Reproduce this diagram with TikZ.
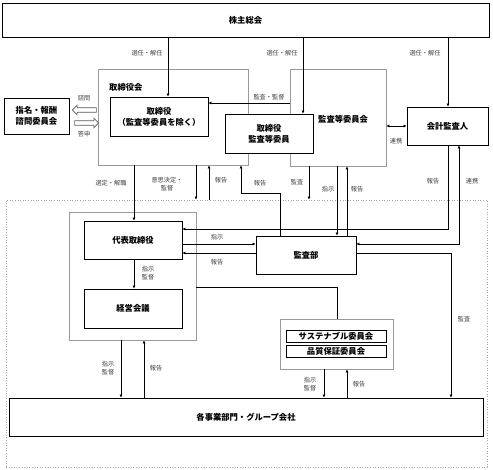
\documentclass[tikz,border=0pt]{standalone}
\usepackage{fontspec}
\setmainfont{Noto Sans CJK JP}
\usetikzlibrary{shapes.arrows,arrows.meta}
\begin{document}
\begin{tikzpicture}[x=1pt,y=-1pt,
 box/.style={draw=black,line width=0.9pt,fill=white,inner sep=0pt,align=center,font=\fontsize{8.3}{11}\selectfont\bfseries},
 gbox/.style={draw=black!40,line width=0.9pt,inner sep=0pt},
 arr/.style={line width=0.8pt,-{Latex[length=3pt,width=3pt]}},
 dbl/.style={line width=0.8pt,{Latex[length=3pt,width=3pt]}-{Latex[length=3pt,width=3pt]}},
 ln/.style={line width=0.8pt},
 harrow/.style={single arrow,draw=black!65,fill=white,line width=0.7pt,minimum height=24pt,minimum width=9.5pt,single arrow head extend=2pt,inner sep=1.4pt},
 lbl/.style={font=\fontsize{6.2}{8}\selectfont,text=black!75,inner sep=0pt,align=center}]
\useasboundingbox (0,0) rectangle (493,470);
% group frames
\node[draw=black!35,dotted,line width=0.6pt,minimum width=481pt,minimum height=267pt,inner sep=0pt] (grp) at (246.5,333.5) {};
\node[gbox,minimum width=150pt,minimum height=96pt] (bod) at (173,117) {};
\node[gbox,minimum width=96pt,minimum height=97pt] (ace) at (338,117.5) {};
\node[gbox,minimum width=127pt,minimum height=128pt] (exec) at (132.5,276) {};
\node[gbox,minimum width=113pt,minimum height=50pt] (susg) at (336.5,344) {};
\node[font=\fontsize{8.3}{10}\selectfont\bfseries,anchor=west,inner sep=0pt] (bodl) at (109,87) {取締役会};
\node[font=\fontsize{8.3}{10}\selectfont\bfseries,anchor=west,inner sep=0pt] (acel) at (318,119) {監査等委員会};
% boxes
\node[box,minimum width=487pt,minimum height=34pt] (sh) at (245.5,20) {株主総会};
\node[box,minimum width=98pt,minimum height=39pt] (dir) at (159,116.5) {取締役\\（監査等委員を除く）};
\node[box,minimum width=88pt,minimum height=39pt] (dirace) at (269,133.5) {取締役\\監査等委員};
\node[box,minimum width=81pt,minimum height=38pt] (aud) at (447.5,126) {会計監査人};
\node[box,minimum width=65pt,minimum height=36pt] (nom) at (36.5,116) {指名・報酬\\諮問委員会};
\node[box,minimum width=98pt,minimum height=38pt] (ceo) at (133,240) {代表取締役};
\node[box,minimum width=98pt,minimum height=39pt] (mgmt) at (133,308.5) {経営会議};
\node[box,minimum width=100pt,minimum height=38pt] (iad) at (306,255) {監査部};
\node[box,minimum width=100pt,minimum height=12pt] (sus) at (336,336) {サステナブル委員会};
\node[box,minimum width=100pt,minimum height=12pt] (qa) at (336,351) {品質保証委員会};
\node[box,minimum width=474pt,minimum height=38pt] (biz) at (246,417) {各事業部門・グループ会社};
% hollow arrows
\node[harrow,shape border rotate=180] (ask) at (85.5,110) {};
\node[harrow] (ans) at (85.5,123) {};
\node[lbl] (l0a) at (84,98) {諮問};
\node[lbl] (l0b) at (84,134) {答申};
% election
\draw[arr] (sh.south -| 168,0) -- (dir.north -| 168,0);
\draw[arr] (sh.south -| 303,0) -- (dirace.north -| 303,0);
\draw[arr] (sh.south -| 448,0) -- (aud.north -| 448,0);
\node[lbl] (l1) at (147,53) {選任・解任};
\node[lbl] (l2) at (282,53) {選任・解任};
\node[lbl] (l3) at (425,53) {選任・解任};
% audit/supervise
\draw[arr] (ace.west |- 0,103) -- (dir.east |- 0,103);
\node[lbl] (l4) at (269,97) {監査・監督};
\draw[dbl] (ace.east |- 0,126) -- (aud.west |- 0,126);
\node[lbl] (l5) at (396,141) {連携};
% below board
\draw[arr] (bod.south -| 134,0) -- (ceo.north -| 134,0);
\node[lbl] (l6) at (111,183) {選定・解職};
\draw[arr] (bod.south -| 196,0) -- (grp.north -| 196,0);
\node[lbl] (l7) at (167,184) {意思決定・\\監督};
\draw[arr] (grp.north -| 209,0) -- (bod.south -| 209,0);
\node[lbl] (l8) at (221,180) {報告};
\draw[arr] (iad.north -| 280,0) -- (280,193) -- (241,193) -- (bod.south -| 241,0);
\node[lbl] (l9) at (260,183) {報告};
\draw[arr] (ace.south -| 309,0) -- (grp.north -| 309,0);
\node[lbl] (l10) at (297,182) {監査};
\draw[arr] (ace.south -| 337,0) -- (iad.north -| 337,0);
\node[lbl] (l11) at (328,189) {指示};
\draw[arr] (iad.north -| 347,0) -- (ace.south -| 347,0);
\node[lbl] (l12) at (357,189) {報告};
% accounting auditor
\draw[arr] (aud.south -| 448,0) |- (ceo.east |- 0,229);
\node[lbl] (l13) at (433,181) {報告};
\draw[dbl] (iad.east |- 0,244) -| (aud.south -| 459,0);
\node[lbl] (l14) at (472,181) {連携};
\draw[arr] (iad.east |- 0,253) -| (biz.north -| 451,0);
\node[lbl] (l15) at (464,319) {監査};
% ceo - iad
\draw[arr] (ceo.east |- 0,244) -- (iad.west |- 0,244);
\node[lbl] (l16) at (217,237) {指示};
\draw[arr] (iad.west |- 0,253) -- (ceo.east |- 0,253);
\node[lbl] (l17) at (217,262) {報告};
\draw[arr] (ceo.south -| 134,0) -- (mgmt.north -| 134,0);
\node[lbl] (l18) at (148,273) {指示\\監督};
% exec to committees
\draw[ln] (exec.east |- 0,287) -| (susg.north -| 337,0);
% to business units
\draw[arr] (exec.south -| 121,0) -- (biz.north -| 121,0);
\node[lbl] (l19) at (108,368) {指示\\監督};
\draw[arr] (biz.north -| 144,0) -- (exec.south -| 144,0);
\node[lbl] (l20) at (156,368) {報告};
\draw[arr] (susg.south -| 324,0) -- (biz.north -| 324,0);
\node[lbl] (l21) at (310,384) {指示\\監督};
\draw[arr] (biz.north -| 347,0) -- (susg.south -| 347,0);
\node[lbl] (l22) at (359,384) {報告};
\end{tikzpicture}
\end{document}
